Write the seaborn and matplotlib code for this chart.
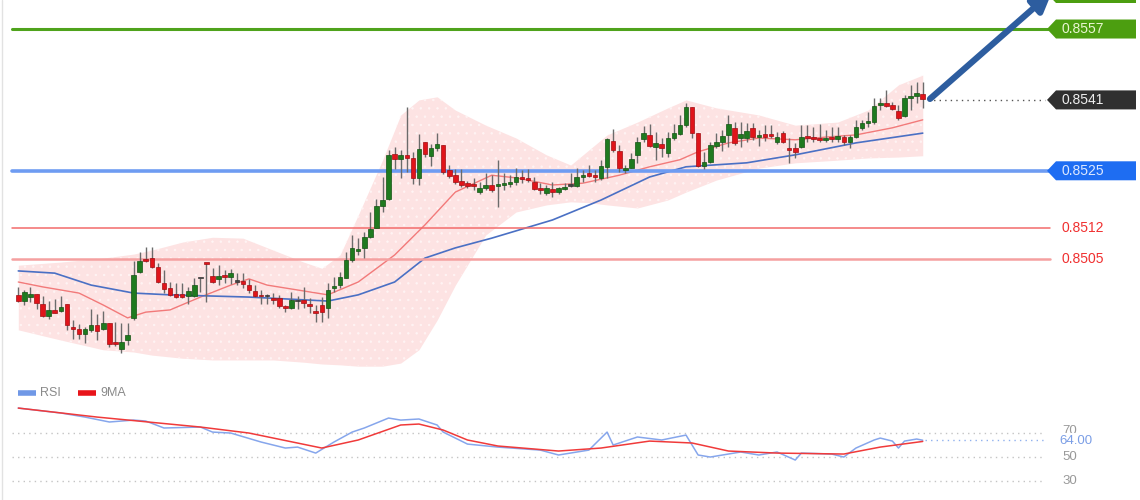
import numpy as np
import pandas as pd
import seaborn as sns
import matplotlib.pyplot as plt
from matplotlib.patches import Polygon
import matplotlib.transforms as mtransforms

# candle data (150 bars)
opens = [0.84970, 0.84956, 0.84965, 0.84972, 0.84949, 0.84922, 0.84936, 0.84934, 0.84949, 0.84898,
         0.84893, 0.84882, 0.84891, 0.84902, 0.84893, 0.84907, 0.84861, 0.84848, 0.84868, 0.84918,
         0.85022, 0.85051, 0.85053, 0.85033, 0.84997, 0.84986, 0.84972, 0.84972, 0.84967, 0.84967,
         0.85007, 0.85042, 0.85013, 0.85006, 0.85013, 0.85011, 0.84999, 0.85001, 0.84992, 0.84979,
         0.84968, 0.84967, 0.84963, 0.84963, 0.84945, 0.84940, 0.84956, 0.84958, 0.84949, 0.84934,
         0.84947, 0.84940, 0.84986, 0.84992, 0.85008, 0.85049, 0.85069, 0.85076, 0.85100, 0.85121,
         0.85171, 0.85186, 0.85288, 0.85277, 0.85286, 0.85279, 0.85234, 0.85315, 0.85284, 0.85302,
         0.85308, 0.85252, 0.85240, 0.85227, 0.85222, 0.85220, 0.85202, 0.85211, 0.85218, 0.85216,
         0.85218, 0.85220, 0.85225, 0.85236, 0.85234, 0.85225, 0.85211, 0.85200, 0.85209, 0.85202,
         0.85209, 0.85216, 0.85216, 0.85236, 0.85245, 0.85238, 0.85234, 0.85259, 0.85317, 0.85295,
         0.85252, 0.85256, 0.85286, 0.85322, 0.85331, 0.85304, 0.85311, 0.85290, 0.85324, 0.85333,
         0.85353, 0.85394, 0.85335, 0.85261, 0.85270, 0.85306, 0.85315, 0.85331, 0.85347, 0.85324,
         0.85324, 0.85347, 0.85326, 0.85333, 0.85333, 0.85315, 0.85335, 0.85302, 0.85302, 0.85304,
         0.85326, 0.85326, 0.85324, 0.85320, 0.85326, 0.85322, 0.85326, 0.85315, 0.85326, 0.85347,
         0.85358, 0.85360, 0.85399, 0.85403, 0.85399, 0.85384, 0.85374, 0.85415, 0.85419, 0.85424]
closes = [0.84956, 0.84976, 0.84972, 0.84952, 0.84922, 0.84936, 0.84929, 0.84943, 0.84902, 0.84893,
          0.84882, 0.84893, 0.84902, 0.84889, 0.84907, 0.84859, 0.84859, 0.84864, 0.84879, 0.85015,
          0.85046, 0.85046, 0.85033, 0.84999, 0.84983, 0.84970, 0.84965, 0.84965, 0.84979, 0.84992,
          0.85007, 0.85040, 0.84999, 0.85013, 0.85011, 0.85019, 0.84999, 0.84995, 0.84981, 0.84967,
          0.84967, 0.84967, 0.84958, 0.84945, 0.84940, 0.84958, 0.84956, 0.84952, 0.84945, 0.84929,
          0.84931, 0.84981, 0.84988, 0.85011, 0.85049, 0.85076, 0.85074, 0.85100, 0.85119, 0.85171,
          0.85184, 0.85286, 0.85277, 0.85286, 0.85279, 0.85234, 0.85299, 0.85288, 0.85302, 0.85311,
          0.85247, 0.85238, 0.85225, 0.85218, 0.85216, 0.85216, 0.85211, 0.85218, 0.85207, 0.85220,
          0.85222, 0.85225, 0.85236, 0.85231, 0.85229, 0.85209, 0.85207, 0.85211, 0.85202, 0.85211,
          0.85213, 0.85216, 0.85236, 0.85240, 0.85238, 0.85236, 0.85261, 0.85322, 0.85297, 0.85256,
          0.85256, 0.85277, 0.85315, 0.85335, 0.85306, 0.85313, 0.85302, 0.85324, 0.85335, 0.85353,
          0.85394, 0.85335, 0.85261, 0.85270, 0.85308, 0.85315, 0.85329, 0.85356, 0.85313, 0.85333,
          0.85340, 0.85326, 0.85331, 0.85326, 0.85329, 0.85326, 0.85315, 0.85297, 0.85293, 0.85326,
          0.85324, 0.85322, 0.85320, 0.85324, 0.85322, 0.85329, 0.85315, 0.85326, 0.85349, 0.85358,
          0.85360, 0.85396, 0.85403, 0.85396, 0.85389, 0.85369, 0.85415, 0.85417, 0.85426, 0.85412]
highs = [0.84988, 0.84981, 0.84988, 0.84972, 0.84967, 0.84956, 0.84961, 0.84967, 0.84949, 0.84914,
         0.84905, 0.84898, 0.84938, 0.84927, 0.84934, 0.84907, 0.84909, 0.84907, 0.84907, 0.85046,
         0.85067, 0.85078, 0.85078, 0.85042, 0.85026, 0.84999, 0.84997, 0.84997, 0.84988, 0.85008,
         0.85008, 0.85043, 0.85030, 0.85037, 0.85026, 0.85028, 0.85019, 0.85019, 0.85006, 0.84992,
         0.84981, 0.84972, 0.84974, 0.84970, 0.84947, 0.84976, 0.84967, 0.84988, 0.84963, 0.84947,
         0.84965, 0.84997, 0.85011, 0.85022, 0.85067, 0.85105, 0.85098, 0.85112, 0.85157, 0.85186,
         0.85236, 0.85297, 0.85304, 0.85297, 0.85394, 0.85293, 0.85333, 0.85315, 0.85311, 0.85335,
         0.85308, 0.85263, 0.85254, 0.85254, 0.85227, 0.85234, 0.85225, 0.85245, 0.85240, 0.85275,
         0.85245, 0.85240, 0.85256, 0.85252, 0.85254, 0.85236, 0.85222, 0.85218, 0.85225, 0.85213,
         0.85222, 0.85245, 0.85256, 0.85252, 0.85263, 0.85252, 0.85275, 0.85324, 0.85344, 0.85308,
         0.85263, 0.85290, 0.85326, 0.85351, 0.85356, 0.85338, 0.85324, 0.85338, 0.85356, 0.85376,
         0.85403, 0.85394, 0.85335, 0.85293, 0.85315, 0.85335, 0.85342, 0.85376, 0.85360, 0.85360,
         0.85358, 0.85358, 0.85342, 0.85353, 0.85353, 0.85338, 0.85340, 0.85324, 0.85313, 0.85353,
         0.85353, 0.85349, 0.85356, 0.85342, 0.85349, 0.85349, 0.85331, 0.85331, 0.85365, 0.85365,
         0.85382, 0.85415, 0.85415, 0.85432, 0.85406, 0.85399, 0.85421, 0.85444, 0.85450, 0.85450]
lows = [0.84954, 0.84947, 0.84954, 0.84938, 0.84920, 0.84916, 0.84929, 0.84931, 0.84891, 0.84871,
        0.84871, 0.84861, 0.84886, 0.84868, 0.84891, 0.84852, 0.84854, 0.84839, 0.84857, 0.84914,
        0.85019, 0.85044, 0.85030, 0.84997, 0.84974, 0.84967, 0.84963, 0.84963, 0.84949, 0.84965,
        0.84976, 0.84954, 0.84997, 0.84992, 0.84997, 0.84995, 0.84992, 0.84986, 0.84974, 0.84965,
        0.84949, 0.84949, 0.84949, 0.84940, 0.84931, 0.84938, 0.84938, 0.84940, 0.84929, 0.84909,
        0.84909, 0.84918, 0.84976, 0.84986, 0.85008, 0.85044, 0.85060, 0.85053, 0.85098, 0.85121,
        0.85157, 0.85184, 0.85254, 0.85234, 0.85247, 0.85220, 0.85218, 0.85281, 0.85261, 0.85295,
        0.85243, 0.85234, 0.85220, 0.85213, 0.85211, 0.85207, 0.85198, 0.85207, 0.85202, 0.85168,
        0.85207, 0.85213, 0.85218, 0.85222, 0.85225, 0.85207, 0.85198, 0.85195, 0.85191, 0.85198,
        0.85207, 0.85213, 0.85213, 0.85225, 0.85236, 0.85225, 0.85229, 0.85234, 0.85293, 0.85247,
        0.85245, 0.85256, 0.85268, 0.85315, 0.85304, 0.85275, 0.85281, 0.85281, 0.85320, 0.85331,
        0.85349, 0.85324, 0.85259, 0.85254, 0.85268, 0.85302, 0.85295, 0.85304, 0.85308, 0.85304,
        0.85315, 0.85320, 0.85306, 0.85317, 0.85324, 0.85311, 0.85313, 0.85268, 0.85279, 0.85302,
        0.85315, 0.85315, 0.85315, 0.85315, 0.85315, 0.85315, 0.85308, 0.85302, 0.85324, 0.85342,
        0.85349, 0.85356, 0.85387, 0.85394, 0.85387, 0.85365, 0.85371, 0.85387, 0.85403, 0.85392]

# bollinger band edges, sampled at some bars
band_idx = [0, 7, 14, 19, 22, 27, 32, 37, 42, 47, 50, 53, 56, 60, 63, 66, 69, 72, 77,
            82, 87, 91, 94, 97, 102, 107, 110, 115, 122, 128, 135, 140, 145, 149]
band_upper = [0.85037, 0.85044, 0.85053, 0.85062, 0.85071, 0.85089, 0.85100, 0.85098, 0.85071, 0.85044,
              0.85030, 0.85060, 0.85150, 0.85274, 0.85376, 0.85410, 0.85417, 0.85387, 0.85353,
              0.85324, 0.85286, 0.85263, 0.85297, 0.85331, 0.85360, 0.85392, 0.85410, 0.85392, 0.85376,
              0.85353, 0.85360, 0.85387, 0.85444, 0.85466]
band_lower = [0.84891, 0.84868, 0.84846, 0.84841, 0.84834, 0.84827, 0.84823, 0.84823, 0.84823, 0.84818,
              0.84814, 0.84812, 0.84809, 0.84809, 0.84816, 0.84846, 0.84913, 0.84992, 0.85105,
              0.85157, 0.85173, 0.85180, 0.85178, 0.85173, 0.85166, 0.85184, 0.85202, 0.85229, 0.85256,
              0.85268, 0.85274, 0.85279, 0.85281, 0.85284]

# band middle (red) and slow moving average (blue)
mid_idx = [0, 4, 10, 14, 18, 21, 25, 30, 35, 38, 41, 46, 51, 56, 62, 67, 72, 78, 82, 88,
           93, 99, 104, 109, 112, 117, 122, 128, 133, 138, 144, 149]
mid_val = [0.84999, 0.84988, 0.84974, 0.84947, 0.84918, 0.84931, 0.84936, 0.84965, 0.84992, 0.85006,
           0.84992, 0.84981, 0.84970, 0.84999, 0.85060, 0.85128, 0.85202, 0.85240, 0.85234, 0.85218,
           0.85222, 0.85240, 0.85259, 0.85275, 0.85293, 0.85313, 0.85324, 0.85320, 0.85326, 0.85331,
           0.85347, 0.85365]
ma_idx = [0, 6, 12, 19, 25, 38, 51, 56, 62, 67, 72, 78, 88, 96, 104, 110, 120, 128, 138, 149]
ma_val = [0.85024, 0.85019, 0.84992, 0.84974, 0.84970, 0.84965, 0.84956, 0.84970, 0.84999, 0.85053,
          0.85076, 0.85098, 0.85139, 0.85184, 0.85236, 0.85259, 0.85268, 0.85286, 0.85313, 0.85335]

# RSI and its 9-period average
rsi_idx = [0, 7, 11, 15, 19, 21, 24, 30, 32, 35, 40, 44, 46, 49, 52, 55, 57, 61, 63, 66,
           69, 70, 74, 79, 86, 89, 94, 97, 98, 102, 106, 110, 112, 114, 119, 122, 125, 128, 129,
           134, 136, 138, 141, 142, 144, 145, 146, 148, 149]
rsi_val = [90.8, 86.7, 83.3, 79.2, 80.8, 80.0, 74.2, 75.0, 70.8, 70.0, 62.5, 57.5, 58.3, 53.3, 62.5,
           70.8, 74.2, 82.5, 80.8, 81.7, 76.7, 70.8, 60.8, 58.3, 55.8, 51.7, 55.8, 70.8, 60.0, 66.7,
           64.2, 68.3, 51.7, 50.0, 54.2, 51.7, 54.2, 47.5, 53.3, 52.5, 50.0, 57.5, 64.2, 65.8, 63.3,
           57.5, 63.3, 65.0, 64.0]
ma9_idx = [0, 13, 30, 38, 50, 56, 63, 66, 70, 74, 79, 89, 96, 104, 111, 117, 125, 136, 142, 149]
ma9_val = [90.8, 83.3, 75.0, 70.0, 57.5, 64.2, 76.7, 77.5, 72.5, 64.2, 59.2, 55.0, 57.5, 63.3, 61.7,
           55.0, 53.3, 52.5, 58.3, 63.0]

levels = [0.8557, 0.8525, 0.8512, 0.8505]
last_price = 0.8541
rsi_last = 64.00

# layout: one bar every DX pixels, first bar at X0 pixels
W, H = 1140, 500
X0, DX = 18.3, 6.07
def px(x):
    return (x - X0) / DX

sns.set_theme(style='white')
plt.rcParams['font.family'] = ['Liberation Sans', 'DejaVu Sans']
plt.rcParams['hatch.linewidth'] = 0.5

fig = plt.figure(figsize=(W / 100, H / 100), dpi=100)
fig.patch.set_facecolor('white')
ax = fig.add_axes([0, 0.25, 1, 0.75])
ax2 = fig.add_axes([0, 0, 1, 0.24])
for a in (ax, ax2):
    a.set_xlim(px(0), px(W))
    a.axis('off')
ax.set_ylim(0.847891, 0.856355)
ax2.set_ylim(14.2, 114.2)
ppx = (0.856355 - 0.847891) / 375  # price per pixel

# bollinger band
ax.fill_between(band_idx, band_lower, band_upper, color='#fde3e3', lw=0, zorder=1)
ax.fill_between(band_idx, band_lower, band_upper, facecolor='none', edgecolor='#fff4f4',
                hatch='..', lw=0, zorder=1)

mids = pd.DataFrame({'i': mid_idx, 'v': mid_val})
mas = pd.DataFrame({'i': ma_idx, 'v': ma_val})
sns.lineplot(data=mids, x='i', y='v', ax=ax, color='#f27a7a', lw=1, zorder=2)
sns.lineplot(data=mas, x='i', y='v', ax=ax, color='#4a70c4', lw=1.2, zorder=2)

# level lines
ax.axhline(levels[0], 12 / W, 1050 / W, color='#4fa31c', lw=2.2, zorder=3)
ax.axhline(levels[1], 12 / W, 1050 / W, color='#6e9cf2', lw=2.6, zorder=3)
ax.axhline(levels[2], 12 / W, 1050 / W, color='#f36b6b', lw=1.1, zorder=3)
ax.axhline(levels[3], 12 / W, 1050 / W, color='#f5a0a0', lw=1.8, zorder=3)
ax.axhline(last_price, 928 / W, 1045 / W, color='#555555', lw=1, ls=(0, (1, 3)), zorder=3)

# candles
o = np.array(opens); c = np.array(closes)
idx = np.arange(len(o))
ax.vlines(idx, lows, highs, color='#6b6b6b', lw=1, zorder=4)
body_lo = np.minimum(o, c)
body_h = np.maximum(np.abs(c - o), 0.000035)
cols = np.where(c > o, '#1f7a1f', np.where(c < o, '#e0141a', '#444444'))
edges = np.where(c > o, '#145214', np.where(c < o, '#a00d12', '#333333'))
ax.bar(idx, body_h, bottom=body_lo, width=0.75, color=cols, edgecolor=edges, lw=0.5, zorder=5)

# price labels on the right
tr = mtransforms.blended_transform_factory(ax.transAxes, ax.transData)
def tag(y, face, tc, text):
    h = 9.5 * ppx
    pts = [(1047 / W, y), (1056 / W, y + h), (1136 / W, y + h), (1136 / W, y - h), (1056 / W, y - h)]
    ax.add_patch(Polygon(pts, closed=True, transform=tr, facecolor=face, edgecolor='none',
                         clip_on=False, zorder=6))
    if text:
        ax.text(1061 / W, y, text, transform=tr, color=tc, fontsize=10, va='center', ha='left',
                zorder=7)

tag(0.856355 + 6.5 * ppx, '#4c9e10', '#e9f6d2', '')
tag(levels[0], '#4c9e10', '#e9f6d2', '0.8557')
tag(last_price, '#303030', '#eeeeee', '0.8541')
tag(levels[1], '#1e6df2', '#dde8ff', '0.8525')
ax.text(1061 / W, levels[2], '0.8512', transform=tr, color='#f03030', fontsize=10, va='center')
ax.text(1061 / W, levels[3], '0.8505', transform=tr, color='#f03030', fontsize=10, va='center')

# trend arrow
ax.annotate('', xy=(px(1052), 0.856355 + 8 * ppx), xytext=(px(930), last_price + 1 * ppx),
            arrowprops=dict(arrowstyle='-|>', lw=4.5, color='#2d5d9f', mutation_scale=28,
                            shrinkA=0, shrinkB=0), annotation_clip=False, zorder=8)

# RSI panel
tr2 = mtransforms.blended_transform_factory(ax2.transAxes, ax2.transData)
for lv in (70, 50, 30):
    ax2.axhline(lv, 12 / W, 1045 / W, color='#c4c4c4', lw=1, ls=(0, (1, 3)))
ax2.axhline(rsi_last, 925 / W, 1045 / W, color='#8fb0ee', lw=1, ls=(0, (1, 3)))
rs = pd.DataFrame({'i': rsi_idx, 'v': rsi_val})
m9 = pd.DataFrame({'i': ma9_idx, 'v': ma9_val})
sns.lineplot(data=rs, x='i', y='v', ax=ax2, color='#86a6ec', lw=1.1)
sns.lineplot(data=m9, x='i', y='v', ax=ax2, color='#f03a3a', lw=1.1)
# "70" sits right behind the 64.00 tag, as in the source chart
ax2.text(1062 / W, 71.5, '70', transform=tr2, color='#999999', fontsize=9.5, va='center')
ax2.text(1059 / W, rsi_last - 0.5, '64.00', transform=tr2, color='#7b9ee6', fontsize=9.5,
         va='center', bbox=dict(facecolor='white', edgecolor='none', pad=1.5))
ax2.text(1062 / W, 50, '50', transform=tr2, color='#999999', fontsize=9.5, va='center')
ax2.text(1062 / W, 30, '30', transform=tr2, color='#999999', fontsize=9.5, va='center')

# legend
ax2.plot([px(18), px(36)], [103.5, 103.5], color='#7098e6', lw=4, solid_capstyle='butt')
ax2.text(40 / W, 103.5, 'RSI', transform=tr2, color='#8a8a8a', fontsize=9, va='center')
ax2.plot([px(78), px(96)], [103.5, 103.5], color='#e8141a', lw=4, solid_capstyle='butt')
ax2.text(100 / W, 103.5, '9MA', transform=tr2, color='#8a8a8a', fontsize=9, va='center')

# thin frame on the left
fig.add_artist(plt.Line2D([1.5 / W, 1.5 / W], [0, 1], transform=fig.transFigure, color='#e2e2e2', lw=1))

fig.savefig('out.png', dpi=100, facecolor='white')
